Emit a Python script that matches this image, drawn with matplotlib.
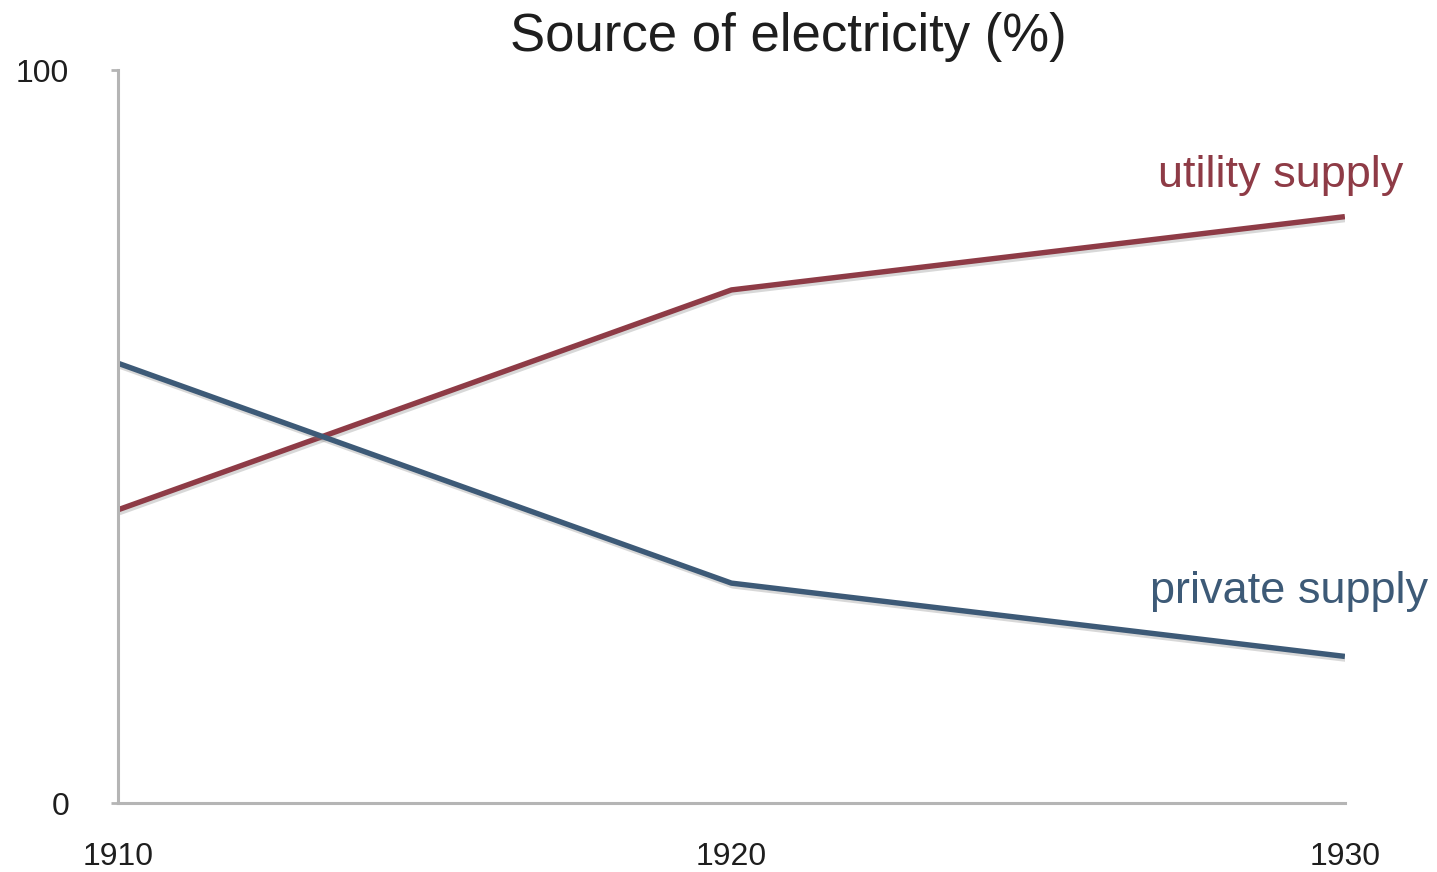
import matplotlib.pyplot as plt
import matplotlib.patheffects as pe

# data
years = [1910, 1920, 1930]
utility = [40, 70, 80]
private = [60, 30, 20]
y_ticks = [0, 100]

utility_color = "#8e3b46"
private_color = "#3d5a77"
text_color = "#1e1e1e"

plt.rcParams["font.family"] = ["Liberation Sans", "DejaVu Sans"]

fig = plt.figure(figsize=(14.37, 8.72), dpi=100)
ax = fig.add_axes([0.0821, 0.0791, 0.8538, 0.8406])

shadow = [pe.SimpleLineShadow(offset=(1, -2), shadow_color="gray", alpha=0.3), pe.Normal()]

ax.plot(years, utility, color=utility_color, lw=3.9, solid_capstyle="butt", path_effects=shadow)
ax.plot(years, private, color=private_color, lw=3.9, solid_capstyle="butt", path_effects=shadow)

ax.set_xlim(years[0], years[-1])
ax.set_ylim(0, 100)
ax.set_xticks(years)
ax.set_xticklabels([str(y) for y in years])
ax.set_yticks(y_ticks)
ax.set_yticklabels([str(t) for t in y_ticks])

for s in ["top", "right"]:
    ax.spines[s].set_visible(False)
for s in ["left", "bottom"]:
    ax.spines[s].set_color("#b5b5b5")
    ax.spines[s].set_linewidth(2.2)

ax.tick_params(axis="y", length=5, width=2, color="#b5b5b5", labelsize=23, pad=30, labelcolor=text_color)
ax.tick_params(axis="x", length=0, labelsize=23, pad=28, labelcolor=text_color)

ax.text(1930.95, 84, "utility supply", color=utility_color, fontsize=32.5,
        ha="right", va="baseline", clip_on=False)
ax.text(1931.35, 27.3, "private supply", color=private_color, fontsize=32.5,
        ha="right", va="baseline", clip_on=False)

fig.text(788 / 1437, 1 - 37 / 872, "Source of electricity (%)", fontsize=38,
         ha="center", va="center", color=text_color)

fig.savefig("out.png", dpi=100, facecolor="white")
